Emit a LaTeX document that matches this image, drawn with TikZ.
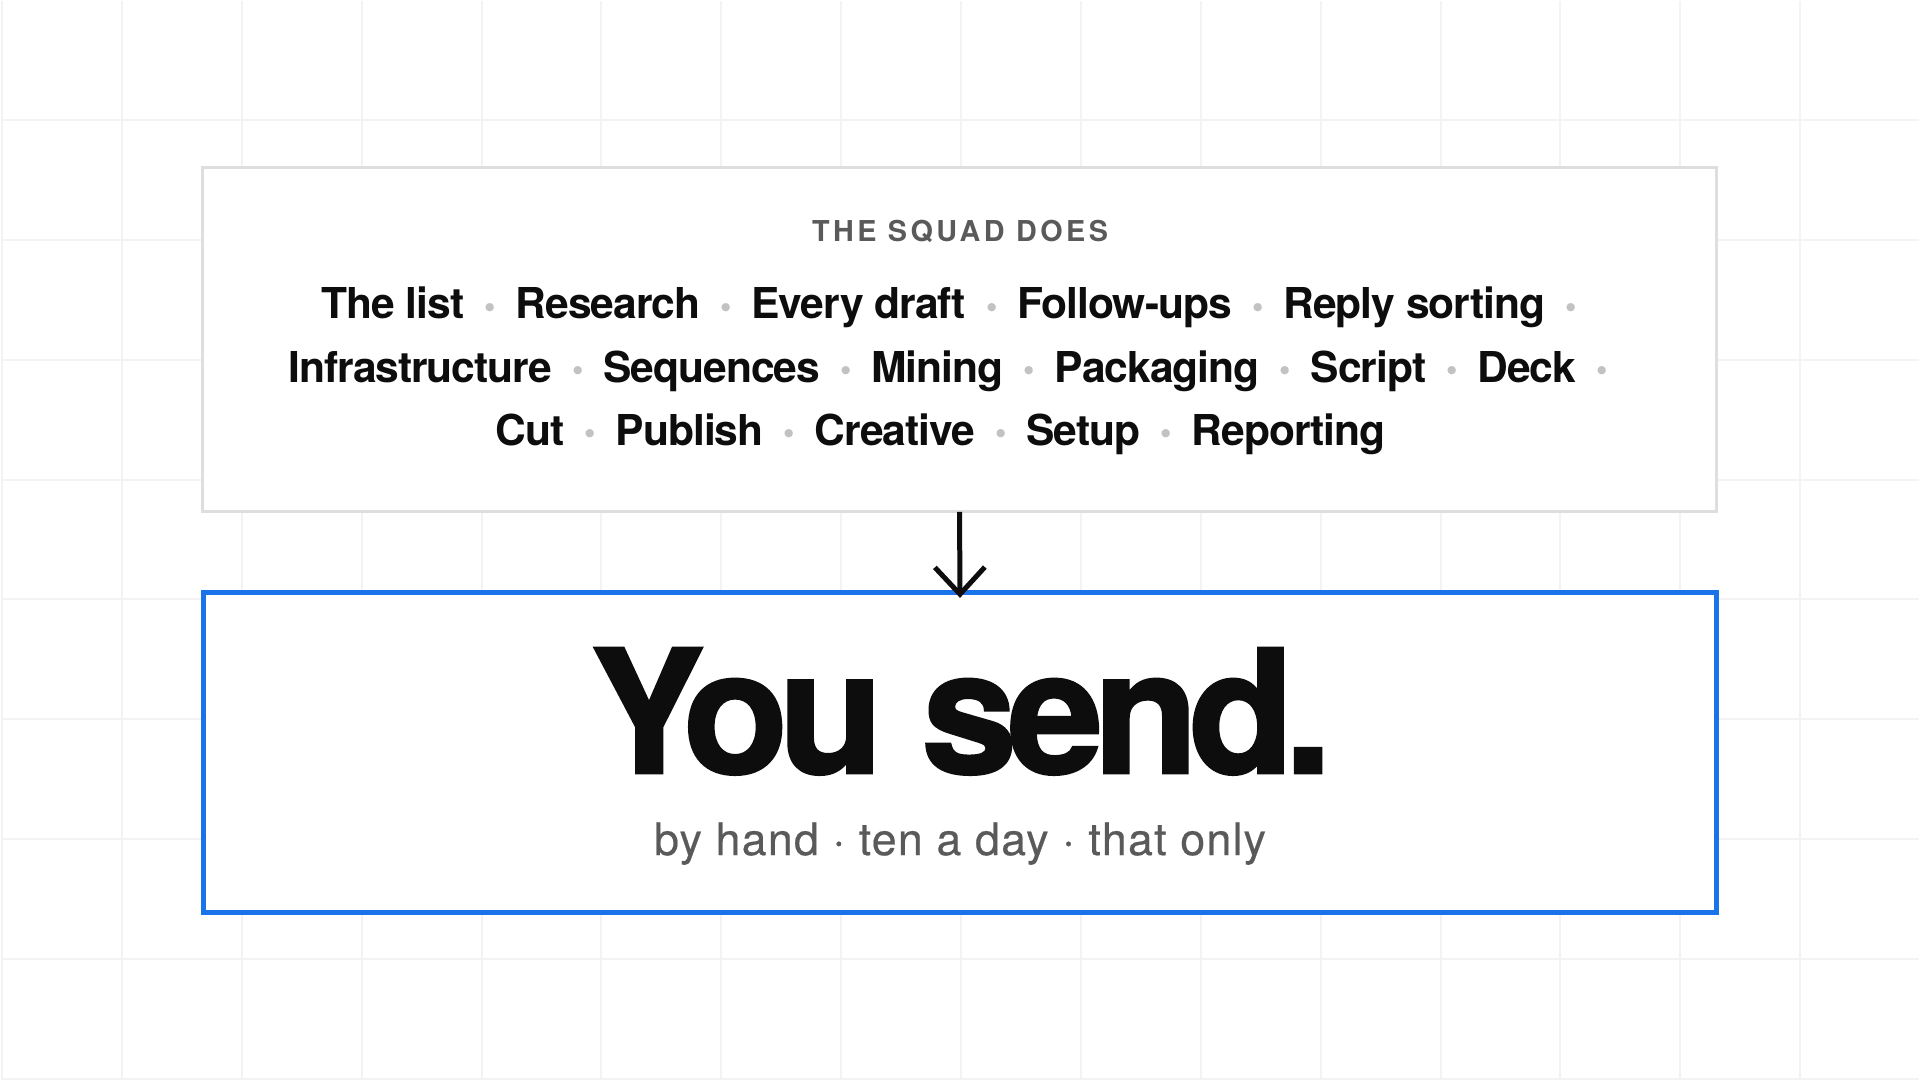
\documentclass[tikz,border=0pt]{standalone}
\usepackage{fontspec}
\setmainfont{TeX Gyre Heros}
\newfontfamily\itemfont[LetterSpace=-2.4]{texgyreheros-bold.otf}
\newfontfamily\capsfont[LetterSpace=12]{texgyreheros-bold.otf}
\newfontfamily\sendfont[LetterSpace=-5.6, FakeBold=1.5]{texgyreheros-bold.otf}
\newfontfamily\howfont[LetterSpace=2.8, FakeBold=0.4]{texgyreheros-regular.otf}
\usepackage{xcolor}
\usepackage{graphicx}
\usetikzlibrary{arrows.meta, positioning}
\definecolor{gridgray}{HTML}{F3F3F3}
\definecolor{panelgray}{HTML}{DEDEDE}
\definecolor{sendblue}{HTML}{1A73E8}
\definecolor{labelgray}{HTML}{5A5A5A}
\definecolor{dotgray}{HTML}{C2C2C2}
\definecolor{inkblack}{HTML}{0D0D0D}
\newcommand{\listdot}{{\color{dotgray}\raisebox{-1.2pt}{\scalebox{1.3}{\textperiodcentered}}}}
\newcommand{\sepdot}{\hspace{9pt}\listdot\hspace{9pt}}
\newcommand{\lastdot}{\hspace{9pt}\listdot}
\tikzset{
  panel/.style={draw, fill=white, rectangle, inner sep=0pt},
  itemrow/.style={anchor=base, text=inkblack, font=\itemfont\fontsize{21.3pt}{21.3pt}\selectfont},
}
\begin{document}
\begin{tikzpicture}[x=0.5pt, y=-0.5pt, every node/.style={inner sep=0pt, outer sep=0pt}]
        % Backdrop grid
        \fill[white] (0,0) rectangle (1920,1080);
        \foreach \g in {0,...,15} {
            \draw[gridgray, line width=1pt] ({1+120*\g},0) -- ({1+120*\g},1080);
        }
        \foreach \g in {0,...,8} {
            \draw[gridgray, line width=1pt] (0,{119+120*\g}) -- (1920,{119+120*\g});
        }
        \useasboundingbox (0,0) rectangle (1920,1080);
        % Panels
        \node[panel, draw=panelgray, line width=1.5pt, minimum width=758pt, minimum height=172.5pt] (squad) at (959.5,339) {};
        \node[panel, draw=sendblue, line width=2.5pt, minimum width=757.5pt, minimum height=160pt] (you) at (960,752.5) {};
        % Squad list
        \node[anchor=base, text=labelgray, font=\capsfont\fontsize{14.4pt}{14.4pt}\selectfont] (heading) at (960,240.5) {THE SQUAD DOES};
        \node[itemrow] (row1) at (950,318.3) {The list\sepdot Research\sepdot Every draft\sepdot Follow-ups\sepdot Reply sorting\lastdot};
        \node[itemrow] (row2) at (949,381.7) {Infrastructure\sepdot Sequences\sepdot Mining\sepdot Packaging\sepdot Script\sepdot Deck\lastdot};
        \node[itemrow] (row3) at (940.5,445) {Cut\sepdot Publish\sepdot Creative\sepdot Setup\sepdot Reporting};
        % Result
        \node[anchor=base, text=inkblack, font=\sendfont\fontsize{86pt}{86pt}\selectfont] (send) at (961,773) {You send.};
        \node[anchor=base, text=labelgray, font=\howfont\fontsize{22.4pt}{22.4pt}\selectfont] (how) at (960,855) {by hand · ten a day · that only};
        % Arrow
        \draw[-{Straight Barb[length=13.5pt, width=25pt]}, line width=2.5pt, inkblack, shorten >=-2.5pt] (squad.south) -- (you.north);
    \end{tikzpicture}
\end{document}
